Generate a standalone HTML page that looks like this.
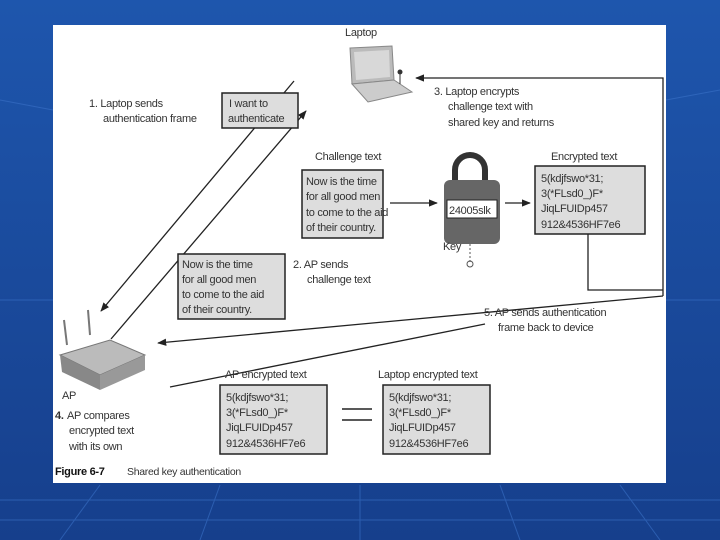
<!DOCTYPE html>
<html><head><style>
html,body{margin:0;padding:0;width:720px;height:540px;overflow:hidden;background:#1b4fa3}
svg{display:block}
text{font-family:"Liberation Sans",sans-serif;font-size:11px;letter-spacing:-0.3px;fill:#333}
</style></head><body>
<svg width="720" height="540" viewBox="0 0 720 540" xmlns="http://www.w3.org/2000/svg">
<defs>
<linearGradient id="bg" x1="0" y1="0" x2="0" y2="1"><stop offset="0" stop-color="#1e56ad"/><stop offset="1" stop-color="#163f8c"/></linearGradient>
<marker id="ar" viewBox="0 0 10 10" refX="9" refY="5" markerWidth="7" markerHeight="7" orient="auto"><path d="M0,1 L10,5 L0,9z" fill="#222"/></marker>
</defs>
<rect width="720" height="540" fill="url(#bg)"/>
<g stroke="#3a72c8" stroke-width="1" opacity="0.6">
<line x1="0" y1="500" x2="720" y2="500"/><line x1="0" y1="520" x2="720" y2="520"/>
<line x1="100" y1="485" x2="60" y2="540"/><line x1="220" y1="485" x2="200" y2="540"/><line x1="360" y1="485" x2="360" y2="540"/><line x1="500" y1="485" x2="520" y2="540"/><line x1="620" y1="485" x2="660" y2="540"/>
<line x1="0" y1="100" x2="53" y2="110"/><line x1="0" y1="300" x2="53" y2="300"/><line x1="666" y1="100" x2="720" y2="90"/><line x1="666" y1="300" x2="720" y2="300"/>
</g>
<rect x="53" y="25" width="613" height="458" fill="#fff"/>

<text x="345" y="36">Laptop</text>
<polygon points="350,48 392,46 394,80 352,84" fill="#bbb" stroke="#888"/>
<polygon points="354,52 389,50 390,77 356,80" fill="#d8d8d8"/>
<polygon points="352,84 394,80 412,92 368,102" fill="#ccc" stroke="#888"/>
<line x1="400" y1="84" x2="400" y2="72" stroke="#333"/><circle cx="400" cy="72" r="2.5" fill="#333"/>

<line x1="294" y1="81" x2="101" y2="311" stroke="#222" stroke-width="1.3" marker-end="url(#ar)"/>
<line x1="111" y1="339" x2="306" y2="111" stroke="#222" stroke-width="1.3" marker-end="url(#ar)"/>
<polyline points="663,296 663,78 416,78" fill="none" stroke="#222" stroke-width="1.3" marker-end="url(#ar)"/>
<polyline points="588,234 588,290 663,290" fill="none" stroke="#222" stroke-width="1.3"/>
<line x1="663" y1="296" x2="158" y2="343" stroke="#222" stroke-width="1.3" marker-end="url(#ar)"/>
<line x1="485" y1="324" x2="170" y2="387" stroke="#222" stroke-width="1.3"/>

<text x="89" y="107">1. Laptop sends</text>
<text x="103" y="122">authentication frame</text>
<rect x="222" y="93" width="76" height="35" fill="#ddd" stroke="#222" stroke-width="1.5"/>
<text x="229" y="107">I want to</text><text x="228" y="122">authenticate</text>

<text x="434" y="95">3. Laptop encrypts</text>
<text x="448" y="110">challenge text with</text>
<text x="448" y="126">shared key and returns</text>

<text x="315" y="160">Challenge text</text>
<rect x="302" y="170" width="81" height="68" fill="#ddd" stroke="#222" stroke-width="1.5"/>
<text x="306" y="185">Now is the time</text><text x="306" y="200">for all good men</text><text x="306" y="216">to come to the aid</text><text x="306" y="231">of their country.</text>
<line x1="390" y1="203" x2="437" y2="203" stroke="#222" stroke-width="1.3" marker-end="url(#ar)"/>
<path d="M455,182 v-12 a15,15 0 0 1 30,0 v12" fill="none" stroke="#333" stroke-width="6"/>
<rect x="444" y="180" width="56" height="64" rx="6" fill="#666"/>
<rect x="447" y="200" width="50" height="18" fill="#fff" stroke="#222"/>
<text x="449" y="214">24005slk</text>
<line x1="470" y1="244" x2="470" y2="262" stroke="#555" stroke-dasharray="2,2"/><circle cx="470" cy="264" r="3" fill="none" stroke="#555"/>
<text x="443" y="250">Key</text>
<line x1="505" y1="203" x2="530" y2="203" stroke="#222" stroke-width="1.3" marker-end="url(#ar)"/>
<text x="551" y="160">Encrypted text</text>
<rect x="535" y="166" width="110" height="68" fill="#ddd" stroke="#222" stroke-width="1.5"/>
<text x="541" y="182">5(kdjfswo*31;</text><text x="541" y="197">3(*FLsd0_)F*</text><text x="541" y="212">JiqLFUIDp457</text><text x="541" y="228">912&amp;4536HF7e6</text>

<rect x="178" y="254" width="107" height="65" fill="#ddd" stroke="#222" stroke-width="1.5"/>
<text x="182" y="268">Now is the time</text><text x="182" y="283">for all good men</text><text x="182" y="298">to come to the aid</text><text x="182" y="313">of their country.</text>
<text x="293" y="268">2. AP sends</text><text x="307" y="283">challenge text</text>

<text x="484" y="316">5. AP sends authentication</text>
<text x="498" y="331">frame back to device</text>

<line x1="67" y1="345" x2="64" y2="320" stroke="#777" stroke-width="2"/>
<line x1="90" y1="335" x2="88" y2="310" stroke="#777" stroke-width="2"/>
<polygon points="60,355 110,340 145,355 100,375" fill="#bbb" stroke="#777"/>
<polygon points="60,355 100,375 100,390 62,372" fill="#888"/>
<polygon points="100,375 145,355 145,370 100,390" fill="#999"/>
<text x="62" y="399">AP</text>
<text x="55" y="419" style="font-weight:bold">4.</text><text x="67" y="419">AP compares</text>
<text x="69" y="434">encrypted text</text><text x="69" y="450">with its own</text>

<text x="225" y="378">AP encrypted text</text>
<rect x="220" y="385" width="107" height="69" fill="#ddd" stroke="#222" stroke-width="1.5"/>
<text x="226" y="401">5(kdjfswo*31;</text><text x="226" y="416">3(*FLsd0_)F*</text><text x="226" y="431">JiqLFUIDp457</text><text x="226" y="447">912&amp;4536HF7e6</text>
<line x1="342" y1="409" x2="372" y2="409" stroke="#222" stroke-width="1.5"/>
<line x1="342" y1="420" x2="372" y2="420" stroke="#222" stroke-width="1.5"/>
<text x="378" y="378">Laptop encrypted text</text>
<rect x="383" y="385" width="107" height="69" fill="#ddd" stroke="#222" stroke-width="1.5"/>
<text x="389" y="401">5(kdjfswo*31;</text><text x="389" y="416">3(*FLsd0_)F*</text><text x="389" y="431">JiqLFUIDp457</text><text x="389" y="447">912&amp;4536HF7e6</text>

<text x="55" y="475" style="font-weight:bold;fill:#111">Figure 6-7</text>
<text x="127" y="475" style="font-size:10.5px">Shared key authentication</text>
</svg>
</body></html>
